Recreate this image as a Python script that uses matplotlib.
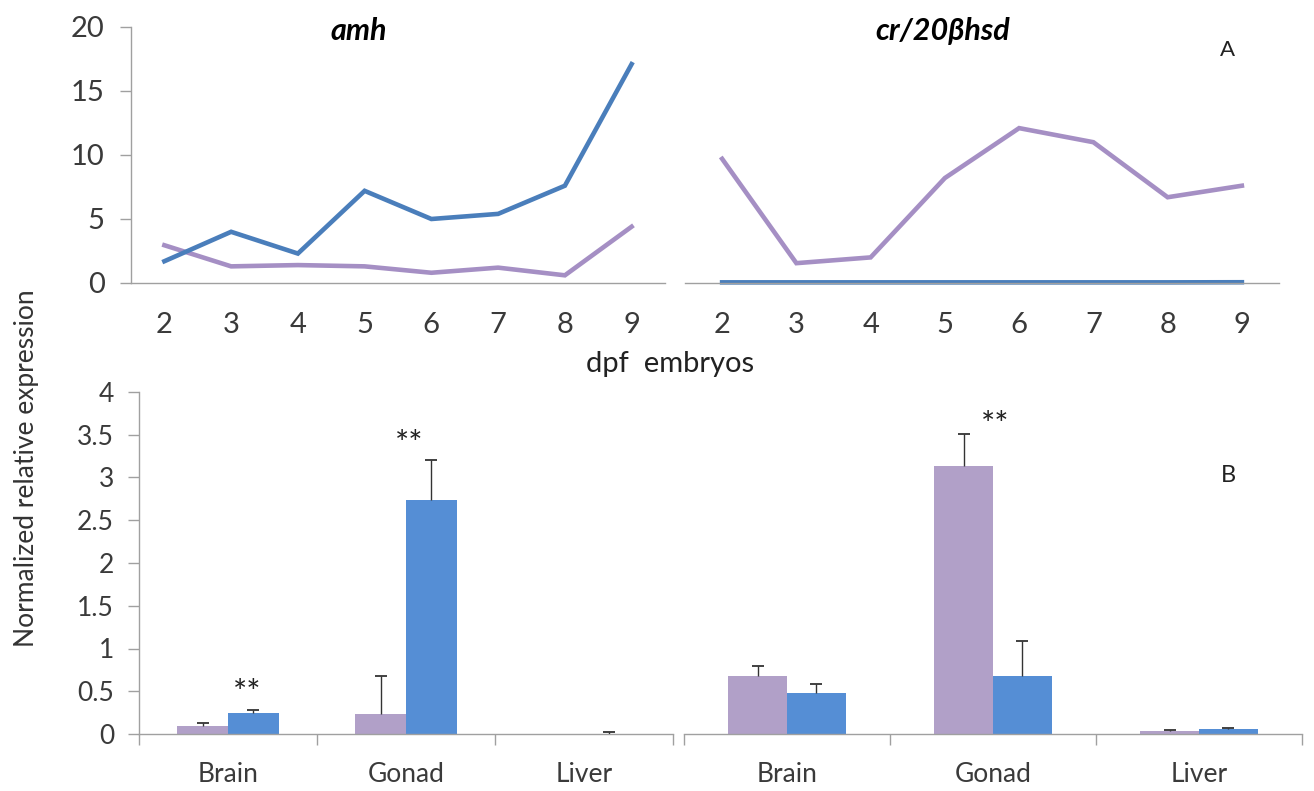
import matplotlib
matplotlib.use("Agg")
import matplotlib.pyplot as plt
import numpy as np
from matplotlib.ticker import FixedLocator, NullFormatter, FuncFormatter

plt.rcParams['font.family'] = ['Lato', 'DejaVu Sans']

# ---- time course (days post fertilization) ----
dpf = [2, 3, 4, 5, 6, 7, 8, 9]
amh_blue = [1.7, 4.0, 2.3, 7.2, 5.0, 5.4, 7.6, 17.1]
amh_purple = [2.95, 1.3, 1.4, 1.3, 0.8, 1.2, 0.6, 4.4]
cr_purple = [9.7, 1.55, 2.0, 8.2, 12.1, 11.0, 6.7, 7.6]
cr_blue = [0.05, 0.05, 0.05, 0.05, 0.05, 0.05, 0.05, 0.06]

# ---- tissue distribution ----
tissues = ["Brain", "Gonad", "Liver"]
amh_tissue_purple = [0.09, 0.23, 0.0]
amh_tissue_purple_err = [0.035, 0.45, 0.0]
amh_tissue_blue = [0.24, 2.74, 0.005]
amh_tissue_blue_err = [0.04, 0.46, 0.015]
cr_tissue_purple = [0.68, 3.14, 0.03]
cr_tissue_purple_err = [0.12, 0.37, 0.012]
cr_tissue_blue = [0.48, 0.68, 0.06]
cr_tissue_blue_err = [0.11, 0.41, 0.008]

line_blue = "#4A7EBB"
line_purple = "#A58FC4"
bar_purple = "#B1A0C8"
bar_blue = "#558ED5"
axis_grey = "#A0A0A0"
tick_txt = "#3A3A3A"
err_col = "#333333"

W, H = 1314, 791
fig = plt.figure(figsize=(W / 100, H / 100), dpi=100)


def px_axes(x0, y_top, x1, y_bottom):
    return fig.add_axes([x0 / W, 1 - y_bottom / H, (x1 - x0) / W, (y_bottom - y_top) / H])


def style_common(ax, show_left):
    for s in ("top", "right"):
        ax.spines[s].set_visible(False)
    ax.spines["left"].set_visible(show_left)
    ax.spines["left"].set_color(axis_grey)
    ax.spines["bottom"].set_color(axis_grey)
    ax.spines["left"].set_linewidth(1.0)
    ax.spines["bottom"].set_linewidth(1.0)
    ax.tick_params(colors=axis_grey, labelcolor=tick_txt)


def upper_errorbars(ax, xs, vals, errs):
    # one-sided (upward) error bars with a cap at the top only; skip empty ones
    xs = np.asarray(xs, float)
    vals = np.asarray(vals, float)
    errs = np.asarray(errs, float)
    keep = errs > 0
    tops = vals + errs
    ax.vlines(xs[keep], vals[keep], tops[keep], colors=err_col, linewidth=1.0, zorder=3)
    ax.scatter(xs[keep], tops[keep], marker="_", s=70, color=err_col, linewidths=1.3, zorder=3)


# ---------- top panels: line charts ----------
ax1 = px_axes(131, 27, 665, 283)
ax2 = px_axes(685, 27, 1279, 283)
for ax, blue, purple, show_left in ((ax1, amh_blue, amh_purple, True),
                                     (ax2, cr_blue, cr_purple, False)):
    ax.plot(dpf, purple, color=line_purple, lw=3.3, solid_joinstyle="miter", clip_on=False)
    ax.plot(dpf, blue, color=line_blue, lw=3.3, solid_joinstyle="miter", clip_on=False)
    ax.set_xlim(1.5, 9.5)
    ax.set_ylim(0, 20)
    style_common(ax, show_left)
    ax.set_xticks(dpf)
    ax.set_xticklabels([str(d) for d in dpf], fontsize=21)
    ax.tick_params(axis="x", length=0, pad=21)
    if show_left:
        ax.set_yticks([0, 5, 10, 15, 20])
        ax.tick_params(axis="y", length=8, width=1.0, direction="out", pad=11, labelsize=21)
    else:
        ax.set_yticks([])

fig.text(359 / W, 1 - 31 / H, "amh", fontsize=22, fontweight="bold", style="italic",
         ha="center", va="center")
fig.text(943 / W, 1 - 31 / H, "cr/20βhsd", fontsize=22, fontweight="bold", style="italic",
         ha="center", va="center")
fig.text(1228 / W, 1 - 50 / H, "A", fontsize=16, color="#222222", ha="center", va="center")
fig.text(670 / W, 1 - 364 / H, "dpf  embryos", fontsize=21, color="#222222", ha="center", va="center")

# ---------- bottom panels: bar charts ----------
ax3 = px_axes(139, 392, 673, 734)
ax4 = px_axes(684, 392, 1302, 734)
x = np.arange(len(tissues))
bw = 0.286
for ax, pv, pe, bv, be, show_left in (
        (ax3, amh_tissue_purple, amh_tissue_purple_err, amh_tissue_blue, amh_tissue_blue_err, True),
        (ax4, cr_tissue_purple, cr_tissue_purple_err, cr_tissue_blue, cr_tissue_blue_err, False)):
    ax.bar(x - bw / 2, pv, width=bw, color=bar_purple, zorder=2)
    ax.bar(x + bw / 2, bv, width=bw, color=bar_blue, zorder=2)
    upper_errorbars(ax, x - bw / 2, pv, pe)
    upper_errorbars(ax, x + bw / 2, bv, be)
    ax.set_xlim(-0.5, len(tissues) - 0.5)
    ax.set_ylim(0, 4)
    style_common(ax, show_left)
    ax.set_xticks(x)
    ax.set_xticklabels(tissues, fontsize=19)
    ax.xaxis.set_minor_locator(FixedLocator(np.arange(-0.5, len(tissues), 1.0)))
    ax.xaxis.set_minor_formatter(NullFormatter())
    ax.tick_params(axis="x", which="major", length=0, pad=20)
    ax.tick_params(axis="x", which="minor", length=8, width=1.0, direction="out", colors=axis_grey)
    if show_left:
        ax.set_yticks(np.arange(0, 4.01, 0.5))
        ax.yaxis.set_major_formatter(FuncFormatter(lambda v, p: f"{v:g}"))
        ax.tick_params(axis="y", length=8, width=1.0, direction="out", pad=10, labelsize=19)
    else:
        ax.set_yticks([])

star_kw = dict(fontsize=24, ha="center", va="center", color="#222222")
ax3.text(0.11, 0.47, "**", **star_kw)
ax3.text(1.02, 3.38, "**", **star_kw)
ax4.text(1.01, 3.60, "**", **star_kw)
fig.text(1228 / W, 1 - 475 / H, "B", fontsize=17, color="#222222", ha="center", va="center")

fig.text(27 / W, 1 - 468 / H, "Normalized relative expression", fontsize=19,
         color="#333333", rotation=90, ha="center", va="center")

fig.savefig("out.png", dpi=100, facecolor="white")
